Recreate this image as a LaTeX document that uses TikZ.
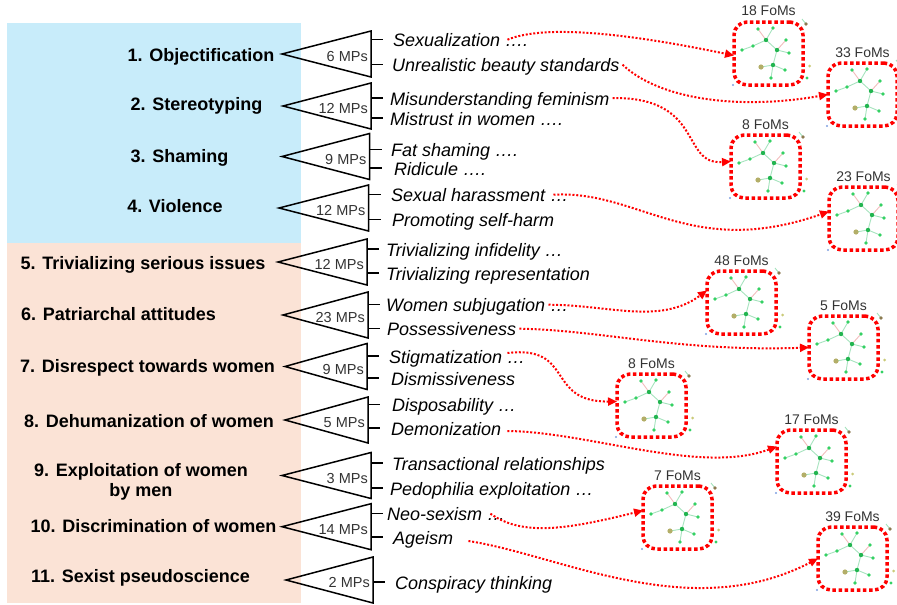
\documentclass[tikz,border=0pt]{standalone}
\usepackage{fontspec}
\setmainfont{Liberation Sans}
\usetikzlibrary{arrows.meta}
\definecolor{bgblue}{HTML}{C8ECFA}
\definecolor{bgpeach}{HTML}{FBE3D6}
\definecolor{mpgray}{HTML}{333333}
\definecolor{gnode}{HTML}{34D164}
\definecolor{ghub}{HTML}{22B550}
\definecolor{gedge}{HTML}{A6E3BE}
\definecolor{pedge}{HTML}{F2BCBC}
\definecolor{olivenode}{HTML}{B3AE68}
\definecolor{brownnode}{HTML}{8C7A50}
\definecolor{yellownode}{HTML}{CACA78}
\definecolor{bluenode}{HTML}{7F9FE0}
\tikzset{
  cat/.style={font=\bfseries\fontsize{18}{20}\selectfont, inner sep=0pt, anchor=base, align=center},
  item/.style={font=\itshape\fontsize{18}{20}\selectfont, inner sep=0pt, anchor=base west, text height=18pt, text depth=4pt},
  mps/.style={font=\fontsize{14.5}{16}\selectfont, text=mpgray, inner sep=0pt, anchor=base east},
  tri/.style={draw=black, line width=1.5pt, line join=miter},
  tick/.style={draw=black, line width=1.5pt},
  fombox/.style={draw=red, line width=3.5pt, dash pattern=on 3.5pt off 2.6pt, rounded corners=13pt, minimum width=69pt, minimum height=63pt, inner sep=0pt, outer sep=0pt, anchor=north west},
  fomlab/.style={font=\fontsize{14}{16}\selectfont, text=mpgray, inner sep=0pt, anchor=base},
  link/.style={draw=red, line width=2pt, dash pattern=on 2pt off 1.8pt, -{Triangle[length=9pt,width=8pt]}},
  fomgraph/.pic={
    \draw[gedge, line width=0.9pt] (32,18) -- (39,6) (32,18) -- (19,24) -- (8,28)
      (32,18) -- (43,28) -- (55,31) (43,28) -- (39,43) -- (27,45)
      (39,43) -- (51,48) (39,43) -- (37,56) (72,2) -- (68,-3);
    \draw[pedge, line width=0.9pt] (32,18) -- (24,7) (43,28) -- (52,18);
    \fill[gnode] (24,7) circle (1.8pt) (39,6) circle (1.8pt) (52,18) circle (1.8pt)
      (19,24) circle (1.8pt) (8,28) circle (1.8pt) (55,31) circle (1.8pt)
      (51,48) circle (1.8pt) (37,56) circle (1.8pt) (73,56) circle (1.6pt);
    \fill[ghub] (32,18) circle (2.2pt) (43,28) circle (2.2pt) (39,43) circle (2.2pt);
    \fill[olivenode] (27,45) circle (2.6pt);
    \fill[brownnode] (72,2) circle (1.8pt);
    \fill[yellownode] (75.5,44) circle (1.5pt);
    \fill[bluenode] (-1,63) circle (1.1pt);
  }
}
\newcommand\mytri[5]{%
  \coordinate (#1) at (#2,#3);
  \coordinate (#1b) at (#4,#3);
  \draw[tri] (#1) -- (#4,#3-23) -- (#4,#3+23) -- cycle;
  \node[mps] (#1l) at (#4-3,#3+7.5) {#5};
}
\begin{document}
\begin{tikzpicture}[x=1pt,y=-1pt]
\useasboundingbox (0,0) rectangle (897,605);
\fill[bgblue] (7,23) rectangle (301,243);
\fill[bgpeach] (7,243) rectangle (301,603);

% categories
\node[cat] (c1) at (201,61) {1. Objectification};
\node[cat] (c2) at (196.5,110) {2. Stereotyping};
\node[cat] (c3) at (179.5,162) {3. Shaming};
\node[cat] (c4) at (175,212) {4. Violence};
\node[cat] (c5) at (143,269.5) {5. Trivializing serious issues};
\node[cat] (c6) at (118.5,320) {6. Patriarchal attitudes};
\node[cat] (c7) at (147.5,372) {7. Disrespect towards women};
\node[cat] (c8) at (149,427) {8. Dehumanization of women};
\node[cat, anchor=center] (c9) at (141,482) {9. Exploitation of women\\by men};
\node[cat] (c10) at (153.5,532) {10. Discrimination of women};
\node[cat] (c11) at (140.5,582) {11. Sexist pseudoscience};

% triangles
\mytri{t1}{282}{54}{371}{6 MPs}
\mytri{t2}{283}{106}{371}{12 MPs}
\mytri{t3}{282}{156.5}{369.5}{9 MPs}
\mytri{t4}{279}{208}{368.5}{12 MPs}
\mytri{t5}{278}{262}{367}{12 MPs}
\mytri{t6}{283}{315}{368}{23 MPs}
\mytri{t7}{285}{366.5}{367}{9 MPs}
\mytri{t8}{285}{420}{368}{5 MPs}
\mytri{t9}{282}{475.5}{371}{3 MPs}
\mytri{t10}{282}{526.7}{371}{14 MPs}
\mytri{t11}{286}{580}{373}{2 MPs}

% items
\node[item] (i1a) at (393,46.7) {Sexualization ….};
\node[item] (i1b) at (392,71.7) {Unrealistic beauty standards};
\node[item] (i2a) at (390,105) {Misunderstanding feminism};
\node[item] (i2b) at (390,125) {Mistrust in women ….};
\node[item] (i3a) at (391,156.7) {Fat shaming ….};
\node[item] (i3b) at (394,175) {Ridicule ….};
\node[item] (i4a) at (391,201.7) {Sexual harassment …};
\node[item] (i4b) at (392,226.7) {Promoting self-harm};
\node[item] (i5a) at (386,256) {Trivializing infidelity …};
\node[item] (i5b) at (386,280) {Trivializing representation};
\node[item] (i6a) at (386,311.7) {Women subjugation …};
\node[item] (i6b) at (387,335.7) {Possessiveness};
\node[item] (i7a) at (389,363) {Stigmatization …};
\node[item] (i7b) at (391,385) {Dismissiveness};
\node[item] (i8a) at (392,411.7) {Disposability …};
\node[item] (i8b) at (391,435) {Demonization};
\node[item] (i9a) at (392,470) {Transactional relationships};
\node[item] (i9b) at (390,495) {Pedophilia exploitation …};
\node[item] (i10a) at (387,520.7) {Neo-sexism …};
\node[item] (i10b) at (393,544) {Ageism};
\node[item] (i11) at (395,589) {Conspiracy thinking};

% ticks
\foreach \t/\i in {t1/i1a,t1/i1b,t2/i2a,t2/i2b,t3/i3a,t3/i3b,t4/i4a,t4/i4b,
  t5/i5a,t5/i5b,t6/i6a,t6/i6b,t7/i7a,t7/i7b,t8/i8a,t8/i8b,t9/i9a,t9/i9b,
  t10/i10a,t10/i10b,t11/i11}
  \draw[tick] (\t b |- \i.west) -- ++(12,0);

% FoM boxes
\node[fombox] (b1) at (734,22) {};
\node[fombox] (b2) at (828,63) {};
\node[fombox] (b3) at (731,135) {};
\node[fombox] (b4) at (829,187) {};
\node[fombox] (b5) at (707,271) {};
\node[fombox] (b6) at (809,316) {};
\node[fombox] (b7) at (617,374) {};
\node[fombox] (b8) at (777,430) {};
\node[fombox] (b9) at (643,486) {};
\node[fombox] (b10) at (818,527) {};
\foreach \b in {b1,b2,b3,b4,b5,b6,b7,b8,b9,b10}
  \pic at (\b.north west) {fomgraph};
\node[fomlab] (f1) at ([yshift=6pt]b1.north) {18 FoMs};
\node[fomlab] (f2) at ([yshift=6pt]b2.north) {33 FoMs};
\node[fomlab] (f3) at ([yshift=6pt]b3.north) {8 FoMs};
\node[fomlab] (f4) at ([yshift=6pt]b4.north) {23 FoMs};
\node[fomlab] (f5) at ([yshift=6pt]b5.north) {48 FoMs};
\node[fomlab] (f6) at ([yshift=6pt]b6.north) {5 FoMs};
\node[fomlab] (f7) at ([yshift=6pt]b7.north) {8 FoMs};
\node[fomlab] (f8) at ([yshift=6pt]b8.north) {17 FoMs};
\node[fomlab] (f9) at ([yshift=6pt]b9.north) {7 FoMs};
\node[fomlab] (f10) at ([yshift=6pt]b10.north) {39 FoMs};

% links
\draw[link] ([xshift=-21pt]i1a.east) .. controls (550,22) and (650,38) .. ([yshift=-2pt]b1.west);
\draw[link] ([xshift=3pt]i1b.east) .. controls (660,100) and (740,110) .. (b2.west);
\draw[link] ([xshift=3pt]i2a.east) .. controls (705,97) and (680,165) .. ([yshift=5pt]b3.west);
\draw[link] ([xshift=-15pt]i4a.east) .. controls (640,190) and (690,260) .. ([yshift=7pt]b4.west);
\draw[link] ([xshift=-20pt]i6a.east) .. controls (610,305) and (660,325) .. ([yshift=12pt]b5.west);
\draw[link] ([xshift=3pt]i6b.east) .. controls (600,330) and (680,352) .. (b6.west);
\draw[link] ([xshift=-18pt,yshift=3pt]i7a.east) .. controls (575,345) and (545,402) .. ([yshift=4pt]b7.west);
\draw[link] ([xshift=6pt,yshift=-3pt]i8b.east) .. controls (590,432) and (700,475) .. ([yshift=15pt]b8.west);
\draw[link] ([xshift=-15pt]i10a.east) .. controls (522,536) and (565,530) .. ([yshift=7pt]b9.west);
\draw[link] ([xshift=15pt,yshift=-4pt]i10b.east) .. controls (560,555) and (690,625) .. (b10.west);
\end{tikzpicture}
\end{document}
